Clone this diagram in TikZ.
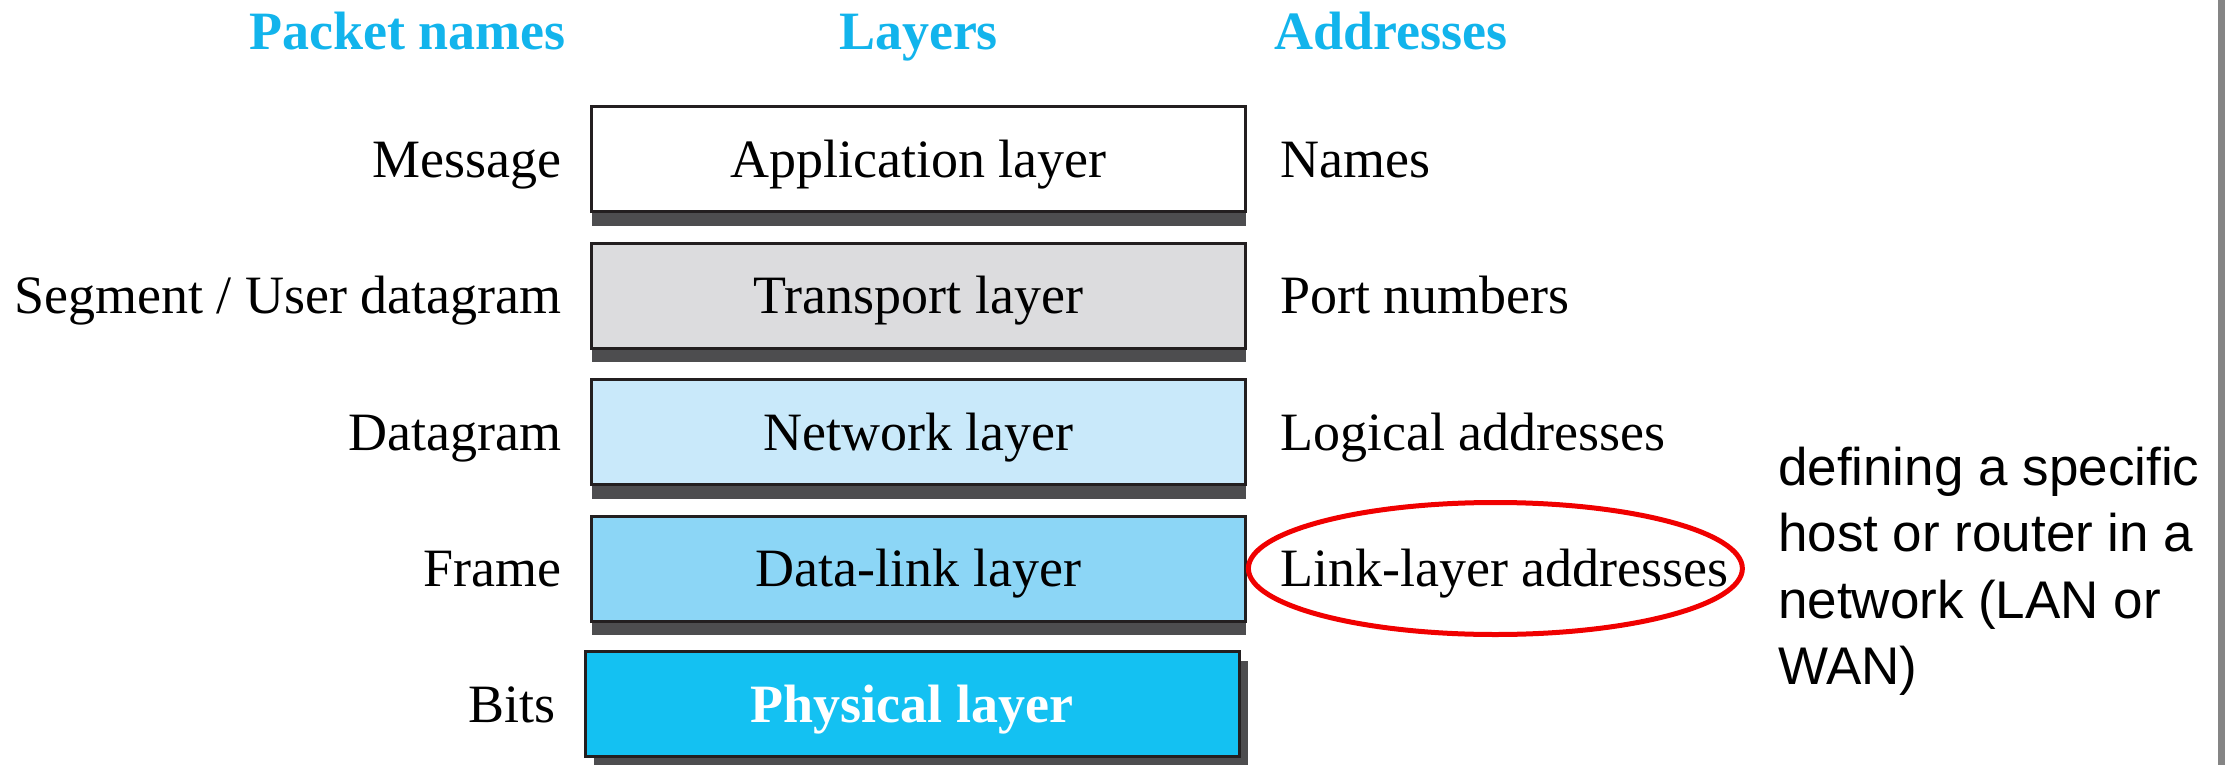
\documentclass[tikz,border=0pt]{standalone}
\usepackage{fontspec}
\setmainfont{Liberation Serif}
\newfontfamily\notefamily{Liberation Sans}
\usetikzlibrary{positioning,shadows,shapes.geometric}
\definecolor{Head}{HTML}{12B4EC}
\definecolor{Rim}{HTML}{231F20}
\definecolor{Shade}{HTML}{4D4D4F}
\definecolor{TransFill}{HTML}{DCDCDE}
\definecolor{NetFill}{HTML}{C9E9FA}
\definecolor{LinkFill}{HTML}{8CD6F6}
\definecolor{PhysFill}{HTML}{14C1F2}
\definecolor{Ring}{HTML}{F00000}
\definecolor{EdgeGray}{HTML}{858585}
\newcommand{\labsize}{\fontsize{54pt}{64pt}\selectfont}
\newcommand{\notesize}{\notefamily\fontsize{53pt}{66.5pt}\selectfont}
\tikzset{
 layerbox/.style={draw=Rim,line width=3pt,fill=white,minimum width=654pt,
   minimum height=105pt,inner sep=0pt,font=\labsize,text height=36pt,text depth=0pt},
 layer/.style={layerbox,drop shadow={shadow xshift=0pt,shadow yshift=-14pt,opacity=1,fill=Shade}},
 bottomlayer/.style={layerbox,drop shadow={shadow xshift=9pt,shadow yshift=-9pt,opacity=1,fill=Shade}},
 lbl/.style={inner sep=0pt,font=\labsize,text height=36pt,text depth=0pt},
 head/.style={lbl,font=\labsize\bfseries,text=Head},
 ring/.style={draw=Ring,line width=5pt,ellipse,minimum width=494pt,minimum height=132pt,inner sep=0pt},
 note/.style={inner sep=0pt,font=\notesize,align=left}
}
\begin{document}
\begin{tikzpicture}[x=1pt,y=-1pt]
\useasboundingbox (0,0) rectangle (2225,765);
% layer stack
\node[layer] (app) at (918.5,159) {Application layer};
\node[layer,fill=TransFill,below=28.5pt of app] (trans) {Transport layer};
\node[layer,fill=NetFill,below=28.5pt of trans] (net) {Network layer};
\node[layer,fill=LinkFill,below=28.5pt of net] (link) {Data-link layer};
\node[bottomlayer,fill=PhysFill,text=white,font=\labsize\bfseries,below=27.5pt of link,xshift=-6.5pt] (phys) {Physical layer};
% column heads
\node[head,above=55pt of app] (hlay) {Layers};
\node[head,left=273pt of hlay] (hpkt) {Packet names};
\node[head,right=276pt of hlay] (hadr) {Addresses};
% packet names
\node[lbl,left=28pt of app] (pmsg) {Message};
\node[lbl,left=28pt of trans] (pseg) {Segment / User datagram};
\node[lbl,left=28pt of net] (pdgr) {Datagram};
\node[lbl,left=28pt of link] (pfrm) {Frame};
\node[lbl,left=28pt of phys] (pbit) {Bits};
% addresses
\node[lbl,right=33pt of app] (aname) {Names};
\node[lbl,right=33pt of trans] (aport) {Port numbers};
\node[lbl,right=33pt of net] (alog) {Logical addresses};
\node[lbl,right=33pt of link] (alink) {Link-layer addresses};
% remark
\node[ring] (mark) at ([xshift=-9pt]alink.center) {};
\node[note,right=33pt of mark,yshift=-3pt] (remark) {defining a specific\\host or router in a\\network (LAN or\\WAN)};
\fill[EdgeGray] (2218,0) rectangle (2225,765);
\end{tikzpicture}
\end{document}
